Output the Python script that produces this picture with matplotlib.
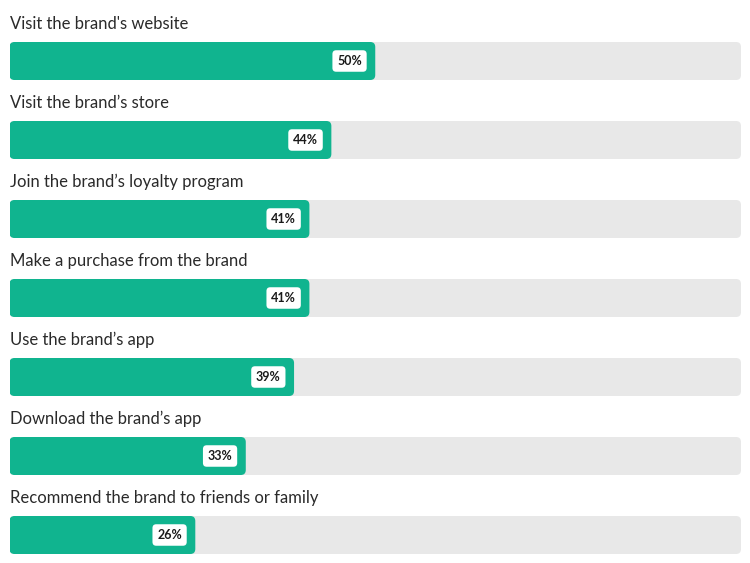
import matplotlib.pyplot as plt
from matplotlib.patches import FancyBboxPatch

# Données du graphique
actions = [
    "Visit the brand's website",
    "Visit the brand’s store",
    "Join the brand’s loyalty program",
    "Make a purchase from the brand",
    "Use the brand’s app",
    "Download the brand’s app",
    "Recommend the brand to friends or family",
]
# longueurs des barres (%)
longueurs = [50, 44, 41, 41, 38.9, 32.3, 25.4]
# étiquettes affichées
etiquettes = ["50%", "44%", "41%", "41%", "39%", "33%", "26%"]

vert = '#10B48F'
gris = '#E8E8E8'
texte = '#2A2A2A'

W, H = 750, 563
fig = plt.figure(figsize=(W / 100, H / 100), dpi=100)

# Axe : x en %, y en rangées (79 px par rangée, centre de la 1re barre à 61 px)
x0, x1 = 9.5, 741
pas = 79
centre0 = 61
ax = fig.add_axes([x0 / W, 0, (x1 - x0) / W, 1])
ax.set_xlim(0, 100)
ax.set_ylim((H - centre0) / pas, -centre0 / pas)
ax.axis('off')

px_x = (x1 - x0) / 100  # pixels par %
hauteur = 38 / pas
rayon = 5 / px_x
aspect = px_x / pas

def barre(x, largeur, y, couleur):
    p = FancyBboxPatch((x, y - hauteur / 2), largeur, hauteur,
                       boxstyle=f"round,pad=0,rounding_size={rayon}",
                       mutation_aspect=aspect, fc=couleur, ec='none')
    ax.add_patch(p)

for i, (nom, val, lab) in enumerate(zip(actions, longueurs, etiquettes)):
    barre(0, 100, i, gris)
    barre(0, val, i, vert)
    ax.text(0, i - 37 / pas, nom, ha='left', va='center', fontsize=12,
            family='Lato', color=texte, clip_on=False)
    ax.annotate(lab, xy=(val, i), xytext=(-9.6, 0), textcoords='offset points',
                ha='right', va='center', fontsize=9, fontweight='bold',
                family='Lato', color='#1A1A1A',
                bbox=dict(boxstyle='round,pad=0.38,rounding_size=0.3',
                          fc='white', ec='none'))

fig.savefig('out.png', dpi=100)
